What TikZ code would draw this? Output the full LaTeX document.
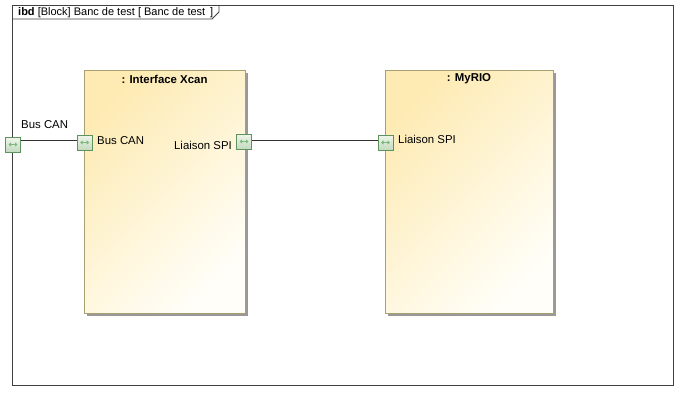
\documentclass[tikz,border=0pt]{standalone}
\usepackage{fontspec}
\setmainfont{Liberation Sans}
\usetikzlibrary{arrows.meta,shadows}
\definecolor{blockborder}{HTML}{A8A070}
\definecolor{blocktop}{HTML}{FEEBB4}
\definecolor{blockbot}{HTML}{FFFEF8}
\definecolor{portborder}{HTML}{5E925E}
\definecolor{portfill}{HTML}{E4F0DE}
\definecolor{portarrow}{HTML}{7DB87D}
\definecolor{framecol}{HTML}{404040}
\tikzset{
  txt/.style={font=\fontsize{11.4}{13}\selectfont, inner sep=0pt},
  block/.style={rectangle, draw=blockborder, line width=0.8pt,
    top color=blocktop, bottom color=blockbot, shading angle=45,
    inner sep=0pt,
    drop shadow={shadow xshift=3pt, shadow yshift=-3pt, fill=black!40, opacity=1}},
  port/.style={rectangle, draw=portborder, line width=0.8pt,
    top color=portfill!60!white, bottom color=portfill!90!black!95!green,
    minimum size=15pt, inner sep=0pt,
    path picture={\draw[portarrow, line width=0.9pt, {Triangle[length=2.5pt,width=4pt]}-{Triangle[length=2.5pt,width=4pt]}]
      ([xshift=-4.5pt]path picture bounding box.center) -- ([xshift=4.5pt]path picture bounding box.center);}},
  conn/.style={draw=black!80, line width=0.7pt}
}
\begin{document}
\begin{tikzpicture}[x=1pt,y=-1pt]
\useasboundingbox (0,0) rectangle (687,400);
% frame
\draw[framecol, line width=0.8pt] (12,5) rectangle (673,385);
\draw[framecol, line width=0.8pt] (12,19) -- (212,19) -- (219,12) -- (219,5);
\node[txt, font=\fontsize{11}{13}\selectfont, anchor=west] (title) at (18,12.5) {\textbf{ibd} [Block] Banc de test [ Banc de test\, ]};
% blocks
\node[block, minimum width=161pt, minimum height=243pt] (xcan) at (164.5,191.5) {};
\node[block, minimum width=168pt, minimum height=243pt] (myrio) at (469,191.5) {};
\node[txt, font=\fontsize{11.4}{13}\selectfont\bfseries] (xcant) at (164.5,79) {: Interface Xcan};
\node[txt, font=\fontsize{11.4}{13}\selectfont\bfseries] (myriot) at (469,79) {: MyRIO};
% ports
\node[port] (p0) at (13,144.5) {};
\node[port] (p1) at (84.7,142.5) {};
\node[port] (p2) at (244,141.5) {};
\node[port] (p3) at (385.5,142.5) {};
% labels
\node[txt, anchor=west] (l0) at (21,125) {Bus CAN};
\node[txt, anchor=west] (l1) at (97,141) {Bus CAN};
\node[txt, anchor=east] (l2) at (232,145) {Liaison SPI};
\node[txt, anchor=west] (l3) at (398,139) {Liaison SPI};
% connectors
\coordinate (c) at (0,140);
\draw[conn] (p0.east |- c) -- (p1.west |- c);
\draw[conn] (p2.east |- c) -- (p3.west |- c);
\end{tikzpicture}
\end{document}
